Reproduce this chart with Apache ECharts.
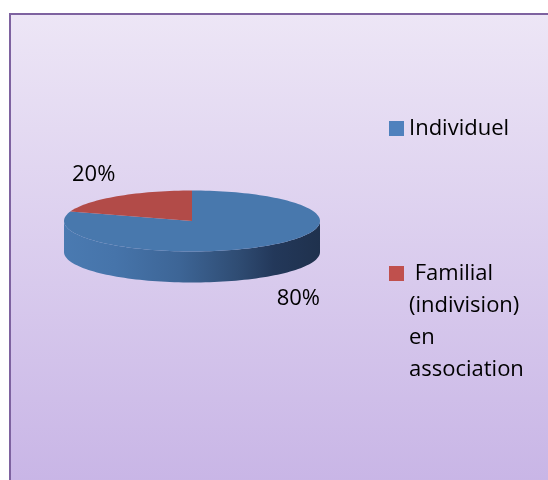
<!DOCTYPE html>
<html>
<head>
<meta charset="utf-8">
<script src="https://cdn.jsdelivr.net/npm/echarts@6/dist/echarts.min.js"></script>
<style>
html, body { margin: 0; padding: 0; background: #fff; }
#main { width: 548px; height: 480px; }
</style>
</head>
<body>
<div id="main"></div>
<script>
var categories = ['Individuel', 'Familial (indivision) en association'];
var values = [80, 20];
var legendColors = ['#4F81BD', '#C0504D'];
var topColors = ['#4878AD', '#B24B48'];

var myChart = echarts.init(document.getElementById('main'));
var total = values.reduce(function (a, b) { return a + b; }, 0);

// flattened pie geometry
var cx = 192, cy = 221, rx = 128, ry = 30.5, depth = 31;

function pt(deg, dy) {
    var r = deg * Math.PI / 180;
    return [cx + rx * Math.cos(r), cy - ry * Math.sin(r) + (dy || 0)];
}
function arc(from, to, dy) {
    var pts = [];
    var n = Math.max(2, Math.ceil(Math.abs(to - from) / 2));
    for (var i = 0; i <= n; i++) {
        pts.push(pt(from + (to - from) * i / n, dy));
    }
    return pts;
}

var sideFill = {
    type: 'linear', x: cx - rx, y: 0, x2: cx + rx, y2: 0, global: true,
    colorStops: [
        { offset: 0, color: '#4a7ab1' },
        { offset: 0.2, color: '#4674aa' },
        { offset: 0.45, color: '#3d6596' },
        { offset: 0.68, color: '#2f4c73' },
        { offset: 0.82, color: '#23385a' },
        { offset: 1, color: '#1f314d' }
    ]
};

function renderSlice(idx) {
    return function (params, api) {
        var before = 0;
        for (var i = 0; i < idx; i++) before += values[i];
        var v = api.value(0);
        // clockwise from 12 o'clock
        var a0 = 90 - before / total * 360;
        var a1 = 90 - (before + v) / total * 360;
        var children = [];
        var lo = Math.min(a0, a1), hi = Math.max(a0, a1);
        // front wall: only the lower half of the ellipse is visible
        for (var k = -2; k <= 1; k++) {
            var s = Math.max(lo, -180 + 360 * k), e = Math.min(hi, 360 * k);
            if (e > s) {
                children.push({
                    type: 'polygon',
                    shape: { points: arc(s, e, 0).concat(arc(e, s, depth)) },
                    style: { fill: sideFill }
                });
            }
        }
        children.push({
            type: 'polygon',
            shape: { points: [[cx, cy]].concat(arc(a0, a1, 0)) },
            style: { fill: topColors[idx] }
        });
        var mid = (a0 + a1) / 2 * Math.PI / 180;
        var lx = cx + 4 + rx * 1.36 * Math.cos(mid);
        var ly = cy - ry * 1.88 * Math.sin(mid) + (Math.sin(mid) < 0 ? depth : 0);
        children.push({
            type: 'text',
            x: lx, y: ly,
            style: {
                text: Math.round(v / total * 100) + '%',
                fontFamily: 'Open Sans', fontSize: 22, fill: '#000',
                align: 'center', verticalAlign: 'middle'
            }
        });
        return { type: 'group', children: children };
    };
}

var legendStyle = { fontFamily: 'Open Sans', fontSize: 22, color: '#000', lineHeight: 32 };

var option = {
    animation: false,
    graphic: [{
        type: 'rect', z: -10,
        shape: { x: 10, y: 14, width: 560, height: 500 },
        style: {
            fill: {
                type: 'linear', x: 0, y: 0, x2: 0, y2: 1,
                colorStops: [
                    { offset: 0, color: '#EDE6F6' },
                    { offset: 1, color: '#C6B2E5' }
                ]
            },
            stroke: '#7E62A0', lineWidth: 2
        }
    }],
    legend: [{
        data: [categories[0]],
        left: 389, top: 112.5, padding: 0, orient: 'vertical',
        icon: 'rect', itemWidth: 15, itemHeight: 15, selectedMode: false,
        textStyle: legendStyle
    }, {
        data: [categories[1]],
        left: 389, top: 161.5, padding: 0, orient: 'vertical',
        icon: 'rect', itemWidth: 15, itemHeight: 15, selectedMode: false,
        // blank lines on top keep the square level with the first line
        formatter: function () { return ' \n \n \n Familial\n(indivision)\nen\nassociation'; },
        textStyle: legendStyle
    }],
    series: categories.map(function (name, i) {
        return {
            type: 'custom',
            name: name,
            coordinateSystem: 'none',
            itemStyle: { color: legendColors[i] },
            renderItem: renderSlice(i),
            data: [[values[i]]]
        };
    })
};
myChart.setOption(option);
</script>
</body>
</html>
